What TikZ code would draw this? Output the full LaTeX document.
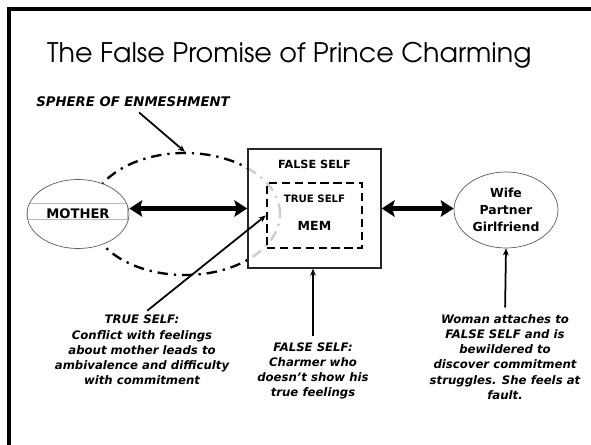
\documentclass[tikz,border=0pt]{standalone}
\usepackage{fontspec}
\newfontfamily\titlefont{TeX Gyre Adventor}
\newfontfamily\labelfont{DejaVu Sans}
\usetikzlibrary{arrows.meta, positioning, shapes.geometric}
\definecolor{EdgeGray}{RGB}{90, 90, 90}
\definecolor{BandGray}{RGB}{185, 185, 185}

\begin{document}
\begin{tikzpicture}[x=0.3mm, y=-0.3mm, >=Stealth,
    every node/.style={font=\labelfont\bfseries},
    note/.style={font=\labelfont\bfseries\itshape\fontsize{10}{13}\selectfont, align=center, inner sep=0pt},
    boxlabel/.style={inner sep=0pt},
    bigarrow/.style={{Stealth[length=11pt, width=14pt, inset=2pt]}-{Stealth[length=11pt, width=14pt, inset=2pt]}, line width=4pt},
    notearrow/.style={-{Stealth[length=6pt, width=5pt]}, line width=1.5pt, shorten <=2mm}]
    \useasboundingbox (0,0) rectangle (591,445);
    \draw[line width=2.6pt] (9,445) -- (9,9) -- (591,9);
    \node[anchor=base west, inner sep=0pt, font=\titlefont\fontsize{23}{27}\selectfont] (title) at (47,63) {The False Promise of Prince Charming};
    \node[font=\labelfont\bfseries\itshape\fontsize{11.3}{13}\selectfont, inner sep=0pt] (sphere) at (133,102) {SPHERE OF ENMESHMENT};
    \node[ellipse, draw, line width=2pt, dash pattern=on 9pt off 5pt on 2pt off 5pt, minimum width=57mm, minimum height=36.6mm] (enmesh) at (185,214) {};
    \node[ellipse, draw=EdgeGray, line width=0.6pt, fill=white, minimum width=30.6mm, minimum height=20.7mm, font=\labelfont\bfseries\fontsize{11.2}{13}\selectfont,
        path picture={\draw[BandGray, line width=0.6pt] ([yshift=3.3mm]path picture bounding box.west) rectangle ([xshift=-0.5mm, yshift=-1.5mm]path picture bounding box.east);}] (mother) at (78,214) {MOTHER};
    \node[draw=black!85, line width=1.2pt, fill=white, fill opacity=0.8, minimum width=39.9mm, minimum height=35.7mm] (fbox) at (314.5,208.5) {};
    \node[draw, line width=2pt, dash pattern=on 7pt off 4pt, minimum width=28.5mm, minimum height=19.5mm] (inner) at (314.5,215.5) {};
    \node[boxlabel, font=\labelfont\bfseries\fontsize{9.6}{11}\selectfont, below=3.6mm of fbox.north] (falselbl) {FALSE SELF};
    \node[boxlabel, font=\labelfont\bfseries\fontsize{8.7}{10}\selectfont, below=4mm of inner.north] (truelbl) {TRUE SELF};
    \node[boxlabel, font=\labelfont\bfseries\fontsize{10.7}{12}\selectfont, below=5.3mm of truelbl] (mem) {MEM};
    \node[ellipse, draw=EdgeGray, line width=0.6pt, minimum width=31.2mm, minimum height=22.8mm, align=center, inner sep=0pt, font=\labelfont\bfseries\fontsize{10.6}{14.5}\selectfont] (wife) at (506,210) {Wife\\Partner\\Girlfriend};
    \node[note] (truenote) at (142,350) {TRUE SELF:\\Conflict with feelings\\about mother leads to\\ambivalence and difficulty\\with commitment};
    \node[note] (falsenote) at (313,371) {FALSE SELF:\\Charmer who\\doesn’t show his\\true feelings};
    \node[note] (womannote) at (505,357) {Woman attaches to\\FALSE SELF and is\\bewildered to\\discover commitment\\struggles. She feels at\\fault.};
    \draw[bigarrow] (fbox.west -| mother.east) -- (fbox.west);
    \draw[bigarrow] (fbox.east) -- (fbox.east -| wife.west);
    \draw[notearrow, shorten <=2.4mm] (sphere.south) -- (enmesh.north);
    \draw[notearrow] (truenote.north) -- (inner.west);
    \draw[notearrow] (falsenote.north) -- (falsenote.north |- fbox.south);
    \draw[notearrow] (womannote.north) -- (wife.south);
\end{tikzpicture}
\end{document}
